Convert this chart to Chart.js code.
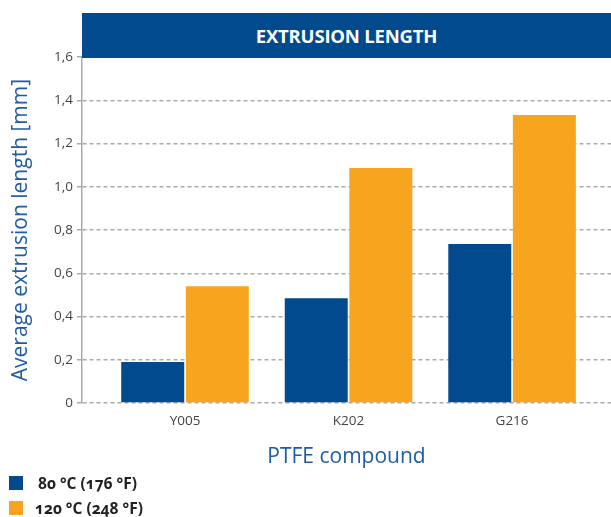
<!DOCTYPE html>
<html>
<head>
<meta charset="utf-8">
<script src="https://cdn.jsdelivr.net/npm/chart.js@4.4.1/dist/chart.umd.min.js"></script>
<style>
  html, body { margin: 0; padding: 0; background: #fff; }
  #wrap { position: relative; width: 611px; height: 517px; font-family: "Open Sans", Lato, sans-serif; }
  #c { position: absolute; left: 0; top: 0; }
  #banner { position: absolute; left: 82px; top: 13px; width: 529px; height: 45px; background: #004a8d;
    color: #fff; font-weight: bold; font-size: 18.5px; line-height: 45px; text-align: center; letter-spacing: -0.2px; }
  .leg { position: absolute; left: 0; font-weight: bold; font-size: 15.5px; color: #222; white-space: nowrap;
    font-variant-numeric: oldstyle-nums; }
  .leg .sw { position: absolute; left: 9px; width: 14px; height: 14px; }
  .leg .tx { position: absolute; white-space: nowrap; }
</style>
</head>
<body>
<div id="wrap">
  <canvas id="c" width="611" height="517"></canvas>
  <div id="banner"></div>
  <div id="legend"></div>
</div>
<script>
const chartTitle = 'EXTRUSION LENGTH';
const categories = ['Y005', 'K202', 'G216'];
const seriesNames = ['80 °C (176 °F)', '120 °C (248 °F)'];
const series80 = [0.19, 0.485, 0.735];
const series120 = [0.54, 1.087, 1.332];
const yTicks = [0, 0.2, 0.4, 0.6, 0.8, 1.0, 1.2, 1.4, 1.6];
const yTitle = 'Average extrusion length [mm]';
const xTitle = 'PTFE compound';
const colors = ['#004a8d', '#f7a51e'];

document.getElementById('banner').textContent = chartTitle;

const FONT = '"Open Sans", Lato, sans-serif';
const toPoints = arr => arr.map((v, i) => ({ x: i, y: v }));

const chart = new Chart(document.getElementById('c'), {
  type: 'bar',
  data: {
    datasets: [
      { label: seriesNames[0], data: toPoints(series80), backgroundColor: colors[0] },
      { label: seriesNames[1], data: toPoints(series120), backgroundColor: colors[1] }
    ]
  },
  options: {
    responsive: false,
    animation: false,
    categoryPercentage: 0.79,
    barPercentage: 0.975,
    layout: { padding: { top: 57, right: 0, left: 0, bottom: 40.5 } },
    plugins: { legend: { display: false }, tooltip: { enabled: false }, title: { display: false } },
    scales: {
      x: {
        type: 'linear',
        offset: false,
        min: -0.63,
        max: 2.605,
        afterBuildTicks: s => { s.ticks = categories.map((c, i) => ({ value: i })); },
        grid: { display: false, drawTicks: false, offset: false },
        border: { display: false },
        ticks: {
          autoSkip: false, maxRotation: 0, padding: 10,
          color: '#444', font: { family: FONT, size: 13.5 },
          callback: v => categories[v] ?? ''
        },
        title: { display: true, text: xTitle, color: '#1f5ca3', font: { family: FONT, size: 21 }, padding: { top: 5, bottom: 7 } }
      },
      y: {
        min: 0, max: 1.6,
        afterBuildTicks: s => { s.ticks = yTicks.map(v => ({ value: v })); },
        afterFit: s => { s.width = 82; },
        grid: { color: '#aaaaaa', lineWidth: 1.5, tickLength: 5, drawTicks: true },
        border: { display: true, color: '#aaaaaa', width: 1.5, dash: [4, 3] },
        ticks: {
          padding: 4, color: '#444', font: { family: FONT, size: 13.5 },
          callback: v => v === 0 ? '0' : v.toFixed(1).replace('.', ',')
        },
        title: { display: true, text: yTitle, color: '#1f5ca3', font: { family: FONT, size: 21 }, padding: { top: 8, bottom: 0 } }
      }
    }
  }
});

// HTML legend built from the datasets
const legend = document.getElementById('legend');
const legTops = [476, 501];
const legLefts = [38, 35];
chart.data.datasets.forEach((ds, i) => {
  const row = document.createElement('div');
  row.className = 'leg';
  row.style.top = legTops[i] + 'px';
  const sw = document.createElement('div');
  sw.className = 'sw';
  sw.style.background = ds.backgroundColor;
  const tx = document.createElement('div');
  tx.className = 'tx';
  tx.style.left = legLefts[i] + 'px';
  tx.style.top = '-4px';
  tx.textContent = ds.label;
  row.appendChild(sw);
  row.appendChild(tx);
  legend.appendChild(row);
});
</script>
</body>
</html>
